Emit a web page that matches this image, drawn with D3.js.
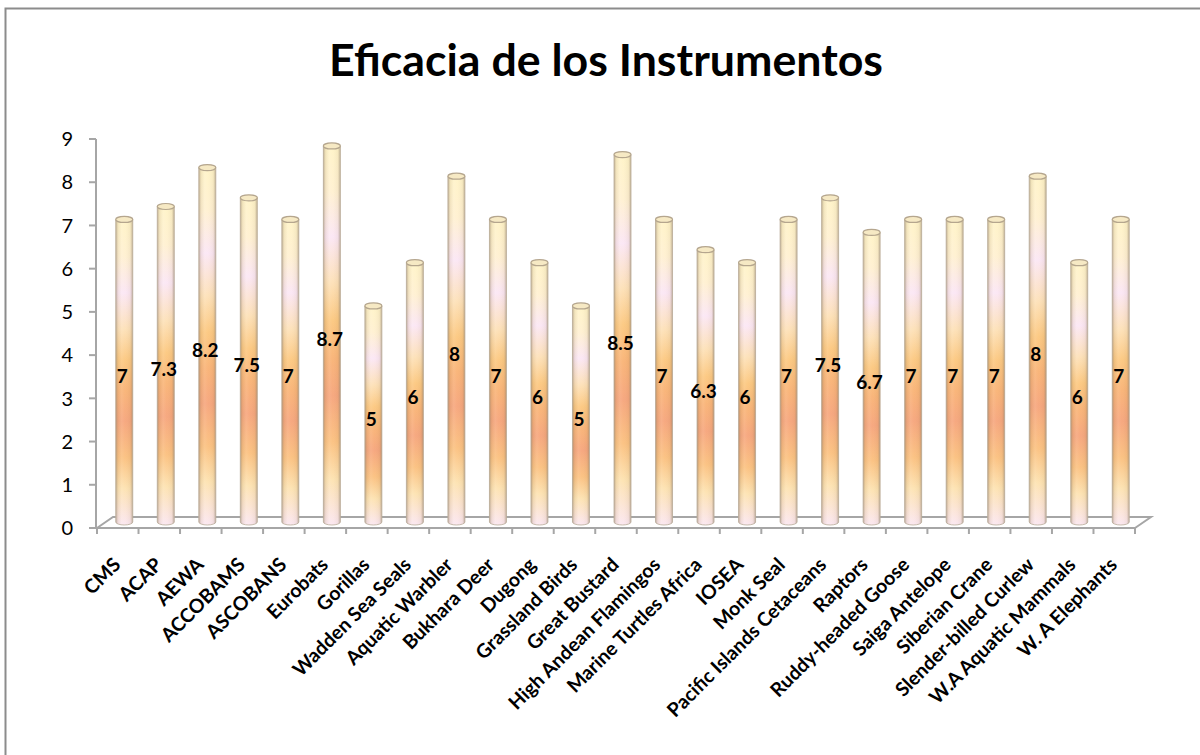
<!DOCTYPE html>
<html><head><meta charset="utf-8">
<script src="https://cdn.jsdelivr.net/npm/d3@7"></script>
<style>
html,body{margin:0;padding:0;background:#fff;}
svg{display:block;}
</style></head>
<body>
<svg id="chart" width="1200" height="755"></svg>
<script>
const title = "Eficacia de los Instrumentos";
const categories = ["CMS","ACAP","AEWA","ACCOBAMS","ASCOBANS","Eurobats","Gorillas","Wadden Sea Seals","Aquatic Warbler","Bukhara Deer","Dugong","Grassland Birds","Great Bustard","High Andean Flamingos","Marine Turtles Africa","IOSEA","Monk Seal","Pacific Islands Cetaceans","Raptors","Ruddy-headed Goose","Saiga Antelope","Siberian Crane","Slender-billed Curlew","W.A Aquatic Mammals","W. A Elephants"];
const values = [7,7.3,8.2,7.5,7,8.7,5,6,8,7,6,5,8.5,7,6.3,6,7,7.5,6.7,7,7,7,8,6,7];
const yTicks = [0,1,2,3,4,5,6,7,8,9];

const svg = d3.select("#chart");
const font = "Lato, 'Open Sans', sans-serif";

// outer chart border
svg.append("rect").attr("x",5.5).attr("y",8.5).attr("width",1220).attr("height",780)
  .attr("fill","#fff").attr("stroke","#8c8c8c").attr("stroke-width",2);

const x = d3.scaleBand().domain(categories).range([97,1135]).padding(0);
const y = d3.scaleLinear().domain([0,9]).range([528,139]);
const depthX = 16, depthY = -11;      // floor depth
const barDX = 6.5, barDY = -6;        // bar placement in depth
const barW = 17, ry = 3;

const defs = svg.append("defs");
const vg = defs.append("linearGradient").attr("id","vg").attr("x1",0).attr("y1",0).attr("x2",0).attr("y2",1);
[[0,"#fff3c6"],[0.12,"#fff0d0"],[0.24,"#fbe6f4"],[0.36,"#fde0b6"],[0.46,"#fcc77e"],[0.56,"#f9b274"],[0.66,"#f6a47a"],[0.78,"#fbc07e"],[0.88,"#fde2b0"],[1,"#fbe6f0"]]
 .forEach(s=>vg.append("stop").attr("offset",s[0]).attr("stop-color",s[1]));
const hg = defs.append("linearGradient").attr("id","hg").attr("x1",0).attr("y1",0).attr("x2",1).attr("y2",0);
[[0,"#8a7a66",0.55],[0.14,"#a89478",0.15],[0.35,"#ffffff",0.12],[0.55,"#ffffff",0.05],[0.85,"#a08c74",0.1],[1,"#8a7a66",0.55]]
 .forEach(s=>hg.append("stop").attr("offset",s[0]).attr("stop-color",s[1]).attr("stop-opacity",s[2]));

// floor
const floor = svg.append("g").attr("stroke","#a6a6a6").attr("stroke-width",2).attr("fill","none");
floor.append("path").attr("d",`M${x.range()[0]},${y(0)} L${x.range()[0]+depthX},${y(0)+depthY} L${x.range()[1]+depthX},${y(0)+depthY} L${x.range()[1]},${y(0)}`);

// y axis
const yAxisG = svg.append("g");
yAxisG.append("line").attr("x1",96).attr("x2",96).attr("y1",y(9)).attr("y2",y(0)).attr("stroke","#a6a6a6").attr("stroke-width",2);
yAxisG.selectAll("line.t").data(yTicks).join("line").attr("class","t")
  .attr("x1",89).attr("x2",96).attr("y1",d=>y(d)).attr("y2",d=>y(d)).attr("stroke","#a6a6a6").attr("stroke-width",2);
yAxisG.selectAll("text").data(yTicks).join("text")
  .attr("x",73).attr("y",d=>y(d)).attr("dy","0.36em").attr("text-anchor","end")
  .attr("font-family",font).attr("font-size",20).attr("fill","#000").text(d=>d);

// x axis
const xAxisG = svg.append("g");
xAxisG.append("line").attr("x1",x.range()[0]).attr("x2",x.range()[1]).attr("y1",y(0)).attr("y2",y(0)).attr("stroke","#a6a6a6").attr("stroke-width",2);
const tickPos = categories.map(c=>x(c)).concat([x.range()[1]]);
xAxisG.selectAll("line.t").data(tickPos).join("line").attr("class","t")
  .attr("x1",d=>d).attr("x2",d=>d).attr("y1",y(0)).attr("y2",y(0)+6).attr("stroke","#a6a6a6").attr("stroke-width",2);
xAxisG.selectAll("text").data(categories).join("text")
  .attr("transform",d=>`translate(${x(d)+x.bandwidth()/2+4},${566}) rotate(-45)`)
  .attr("text-anchor","end").attr("font-family",font).attr("font-weight","bold").attr("font-size",19.5).attr("fill","#000")
  .text(d=>d);

// bars (cylinders)
const data = categories.map((c,i)=>({c, v: values[i]}));
const bars = svg.append("g").selectAll("g").data(data).join("g");
const cx = d => x(d.c) + x.bandwidth()/2 + barDX;
const yb = y(0) + barDY, yt = d => y(d.v) + barDY;
function body(d){
  const l = cx(d)-barW/2, r = cx(d)+barW/2;
  return `M${l},${yt(d)} L${l},${yb} A${barW/2},${ry} 0 0 0 ${r},${yb} L${r},${yt(d)} Z`;
}
bars.append("path").attr("d",body).attr("fill","url(#vg)");
bars.append("path").attr("d",body).attr("fill","url(#hg)").attr("stroke","#b9ab98").attr("stroke-width",0.8);
bars.append("ellipse").attr("cx",cx).attr("cy",yt).attr("rx",barW/2).attr("ry",ry)
  .attr("fill","#f6e9c4").attr("stroke","#b5a68e").attr("stroke-width",1.2);

// value labels
svg.append("g").selectAll("text").data(data).join("text")
  .attr("x",d=>cx(d)-2).attr("y",d=>y(d.v/2)-1).attr("dy","0.36em").attr("text-anchor","middle")
  .attr("font-family",font).attr("font-weight","bold").attr("font-size",19).attr("fill","#000")
  .text(d=>d.v);

// title
const t = svg.append("text").attr("x",606).attr("y",76).attr("text-anchor","middle")
  .attr("font-family",font).attr("font-weight","bold").attr("font-size",40).attr("fill","#000").text(title);
const w = t.node().getComputedTextLength();
t.attr("font-size", 40*554/w);
</script>
</body></html>
